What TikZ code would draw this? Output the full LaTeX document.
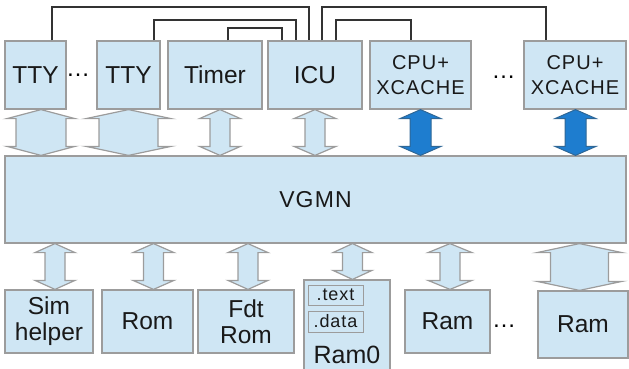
\documentclass[tikz,border=0pt]{standalone}
\usepackage{fontspec}
\setmainfont{Liberation Sans}
\newfontfamily\widefont[LetterSpace=5]{Liberation Sans}
\newfontfamily\tagfont[LetterSpace=5]{Liberation Sans}
\usetikzlibrary{calc}

\definecolor{boxfill}{HTML}{CFE6F4}
\definecolor{boxline}{HTML}{9C9C9C}
\definecolor{wirecol}{HTML}{333333}
\definecolor{cpubus}{HTML}{1E7DCF}
\definecolor{cpubusline}{HTML}{2F6796}

\tikzset{
  blk/.style={draw=boxline, fill=boxfill, line width=1.2pt, inner sep=0pt,
              align=center, text=black!90, font=\fontsize{24.5}{26}\selectfont},
  cpublk/.style={blk, font=\widefont\fontsize{20}{25}\selectfont},
  tagblk/.style={blk, line width=1pt, font=\tagfont\fontsize{18}{19}\selectfont},
  lightbus/.style={draw=boxline, fill=boxfill, line width=1.2pt, line join=miter},
  darkbus/.style={draw=cpubusline, fill=cpubus, line width=1pt, line join=miter},
  wire/.style={draw=wirecol, line width=1.3pt},
  gap/.style={font=\fontsize{24}{24}\selectfont, inner sep=0pt},
}

% double-headed bus arrow: [style]{x}{upper anchor}{lower anchor}{shaft half}{head half}
\newcommand\busarrow[6][lightbus]{%
  \draw[#1] let \p1=(#2,0 |- #3), \p2=(#2,0 |- #4) in
    (\x1,\y1) -- (\x1+#6pt,\y1-9pt) -- (\x1+#5pt,\y1-9pt)
    -- (\x1+#5pt,\y2+9pt) -- (\x1+#6pt,\y2+9pt) -- (\x1,\y2)
    -- (\x1-#6pt,\y2+9pt) -- (\x1-#5pt,\y2+9pt)
    -- (\x1-#5pt,\y1-9pt) -- (\x1-#6pt,\y1-9pt) -- cycle;}

\begin{document}
\begin{tikzpicture}[x=1pt, y=-1pt]
\useasboundingbox (0,0) rectangle (629,369);

% peripherals and processors
\node[blk, minimum width=61pt, minimum height=68pt] (tty1) at (35.5,75) {TTY};
\node[blk, minimum width=63pt, minimum height=68pt] (tty2) at (128.5,75) {TTY};
\node[blk, minimum width=94pt, minimum height=68pt] (timer) at (215,75) {Timer};
\node[blk, minimum width=94pt, minimum height=68pt] (icu) at (315,75) {ICU};
\node[cpublk, minimum width=101pt, minimum height=68pt] (cpu1) at (420.5,75) {CPU+\\XCACHE};
\node[cpublk, minimum width=102pt, minimum height=68pt] (cpu2) at (575,75) {CPU+\\XCACHE};
\node[gap] (dotsA) at (78,75) {…};
\node[gap] (dotsB) at (503.5,77) {…};

% interconnect
\node[blk, minimum width=621pt, minimum height=87pt, font=\widefont\fontsize{23}{24}\selectfont]
  (vgmn) at (315.5,199.5) {VGMN};

% memories
\node[blk, minimum width=88pt, minimum height=63pt] (sim) at (49,321.5) {Sim\\helper};
\node[blk, minimum width=91pt, minimum height=63pt] (rom) at (147.5,321.5) {Rom};
\node[blk, minimum width=96pt, minimum height=63pt] (fdt) at (246,321.5) {Fdt\\Rom};
\node[blk, minimum width=86pt, minimum height=92pt] (ram0) at (347,326) {};
\node[tagblk, minimum width=55pt, minimum height=20pt] (text) at (335.5,295) {.text};
\node[tagblk, minimum width=55pt, minimum height=21pt] (data) at (335.5,321.5) {.data};
\node[font=\fontsize{25}{26}\selectfont, text=black!90, inner sep=0pt] (ram0lbl) at (347,355) {Ram0};
\node[blk, minimum width=85pt, minimum height=63pt] (ram1) at (447.5,321.5) {Ram};
\node[blk, minimum width=90pt, minimum height=67pt] (ram2) at (583,324.5) {Ram};
\node[gap] (dotsC) at (504,326) {…};

% interrupt wires into the ICU
\draw[wire] (52,0 |- tty1.north) |- (309,7) -- (309,0 |- icu.north);
\draw[wire] (154,0 |- tty2.north) |- (296,20) -- (296,0 |- icu.north);
\draw[wire] (228,0 |- timer.north) |- (282,28) -- (282,0 |- icu.north);
\draw[wire] (322,0 |- icu.north) |- (546,7) -- (546,0 |- cpu2.north);
\draw[wire] (336,0 |- icu.north) |- (411,20) -- (411,0 |- cpu1.north);

% bus connections, top row
\busarrow{41}{tty1.south}{vgmn.north}{25}{34}
\busarrow{128.5}{tty2.south}{vgmn.north}{29.5}{42.5}
\busarrow{220}{timer.south}{vgmn.north}{10}{20.5}
\busarrow{315}{icu.south}{vgmn.north}{10}{21}
\busarrow[darkbus]{420.5}{cpu1.south}{vgmn.north}{10.5}{20.5}
\busarrow[darkbus]{575.5}{cpu2.south}{vgmn.north}{10.5}{20.5}

% bus connections, bottom row
\busarrow{55}{vgmn.south}{sim.north}{10}{20}
\busarrow{153.5}{vgmn.south}{rom.north}{10}{20.5}
\busarrow{248}{vgmn.south}{fdt.north}{10}{20}
\busarrow{352.5}{vgmn.south}{ram0.north}{10}{19.5}
\busarrow{450}{vgmn.south}{ram1.north}{10}{22}
\busarrow{579.5}{vgmn.south}{ram2.north}{29}{42.5}
\end{tikzpicture}
\end{document}
